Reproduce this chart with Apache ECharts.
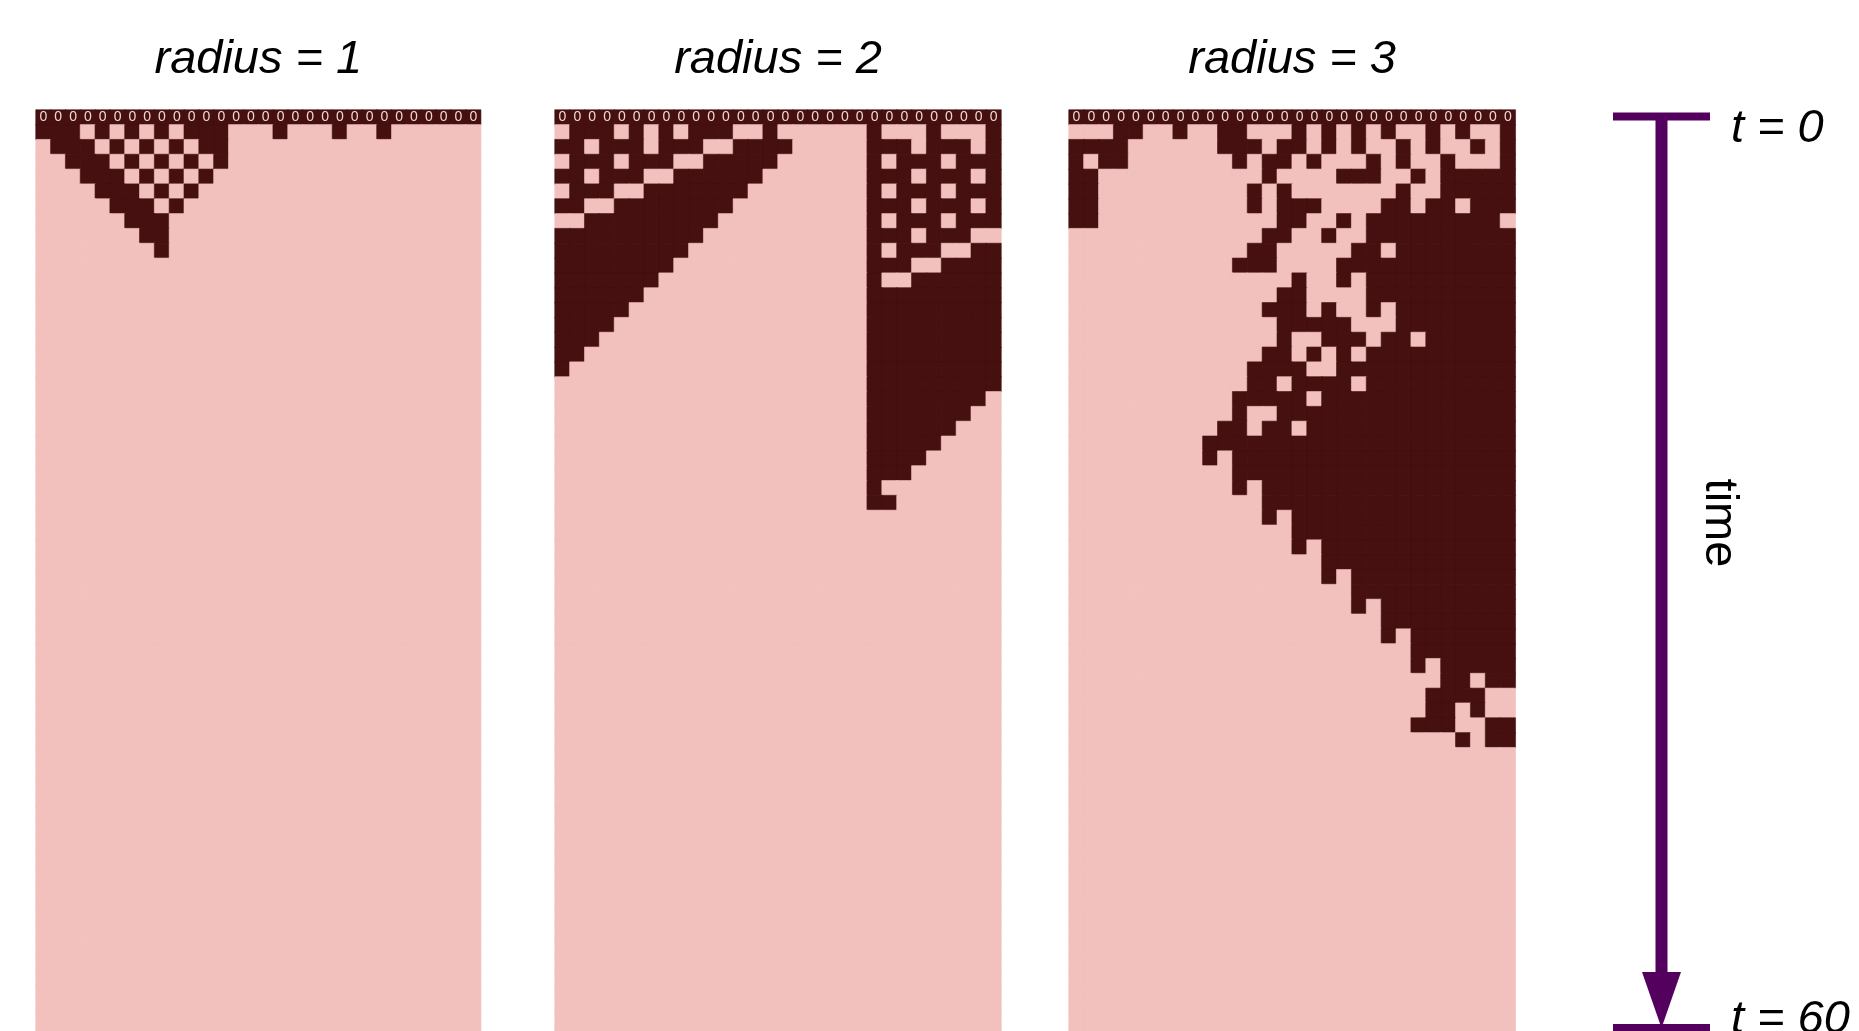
<!DOCTYPE html>
<html>
<head>
<meta charset="utf-8">
<title>radius</title>
<script src="https://cdn.jsdelivr.net/npm/echarts@6/dist/echarts.min.js"></script>
<style>
  html, body { margin: 0; padding: 0; background: #ffffff; }
  #chart { width: 1859px; height: 1031px; }
</style>
</head>
<body>
<div id="chart"></div>
<script>
// Cellular automaton runs, one panel per neighbourhood radius.
// Each string is one time step; '#' = state 1 (dark), '.' = state 0 (light).
// Steps after the last listed one stay at state 0.
const panelTitles = ['radius = 1', 'radius = 2', 'radius = 3'];
const headerLabels = '000000000000000000000000000000'.split('');
const timeTicks = [0, 60];
const timeLabels = ['t = 0', 't = 60'];
const timeAxisName = 'time';

const radius1Steps = [
  '##############################',
  '###.#.#.#.###...#...#..#......',
  '.###.#.#.#.##.................',
  '..###.#.#.#.#.................',
  '...###.#.#.#..................',
  '....###.#.#...................',
  '.....###.#....................',
  '......###.....................',
  '.......##.....................',
  '........#.....................'
];

const radius2Steps = [
  '##############################',
  '.###.#.#.###..#......#...#...#',
  '##.###.###..####.....###.###.#',
  '.###.###..#####......#.###.###',
  '##.###..######.......###.###.#',
  '.###..#######........#.###.###',
  '##..########.........###.###.#',
  '..#########..........#.###.###',
  '##########...........###.###..',
  '#########............#.###..##',
  '########.............###..####',
  '#######..............#..######',
  '######...............#########',
  '#####................#########',
  '####.................#########',
  '###..................#########',
  '##...................#########',
  '#....................#########',
  '.....................#########',
  '.....................########.',
  '.....................#######..',
  '.....................######...',
  '.....................#####....',
  '.....................####.....',
  '.....................###......',
  '.....................#........',
  '.....................##.......'
];

const radius3Steps = [
  '##############################',
  '...##..#..##...#.#.#.#..#.#..#',
  '####......###.##.#.#..#.#..#.#',
  '#.##.......#.##.#...#.#..#...#',
  '##...........#....###..#.#####',
  '##..........#.#.......#..#####',
  '##..........#.###....##.##.###',
  '##............##..#.#########.',
  '.............##..#..##########',
  '............##.....##.########',
  '...........###....############',
  '...............#..#.##########',
  '..............##....##########',
  '.............###.#..#.########',
  '..............#####...########',
  '..............#..###.##.######',
  '.............##.#.#.##########',
  '............####..############',
  '............##.####.##########',
  '...........#####.#############',
  '...........#..################',
  '..........##.##.##############',
  '.........#####################',
  '.........#.###################',
  '...........###################',
  '...........#.#################',
  '.............#################',
  '.............#.###############',
  '...............###############',
  '...............#.#############',
  '.................#############',
  '.................#.###########',
  '...................###########',
  '...................#.#########',
  '.....................#########',
  '.....................#.#######',
  '.......................#######',
  '.......................#.#####',
  '.........................##.##',
  '........................####..',
  '........................##.#..',
  '.......................###..##',
  '..........................#.##'
];

const panelSteps = [radius1Steps, radius2Steps, radius3Steps];

// layout
const COLS = 30;
const ROWS = 63;
const CELL_H = 14.83;
const GRID_TOP = 110;
const panelBoxes = [
  { left: 36, width: 444.7 },
  { left: 555, width: 446 },
  { left: 1069, width: 446.3 }
];
const DARK = '#45100f';
const LIGHT = '#f2c1bd';
const HEADER_TEXT = '#f3d6d2';
const PURPLE = '#54005f';
const FONT = '"Liberation Sans", Arial, sans-serif';
const stateColors = [LIGHT, DARK];

const colCats = Array.from({ length: COLS }, (_, i) => String(i));
const rowCats = Array.from({ length: ROWS }, (_, i) => String(i));

function cellData(steps) {
  const out = [];
  for (let r = 0; r < ROWS; r++) {
    const row = (steps[r] || '').padEnd(COLS, '.');
    for (let c = 0; c < COLS; c++) {
      const v = row[c] === '#' ? 1 : 0;
      const item = {
        value: [c, r, v],
        // a hairline border in the fill colour closes the seams between cells
        itemStyle: { color: stateColors[v], borderColor: stateColors[v], borderWidth: 0.6 }
      };
      if (r === 0) item.label = { show: true, formatter: headerLabels[c] };
      out.push(item);
    }
  }
  return out;
}

const grid = panelBoxes.map(b => ({
  left: b.left, top: GRID_TOP, width: b.width, height: ROWS * CELL_H,
  outerBoundsMode: 'none', containLabel: false
}));
grid.push({ left: 1613, top: 116.5, width: 97, height: 911.5, outerBoundsMode: 'none', containLabel: false });

const xAxis = panelBoxes.map((b, i) => ({
  type: 'category', gridIndex: i, data: colCats, show: false
}));
xAxis.push({ type: 'value', gridIndex: 3, min: 0, max: 1, show: false });

const yAxis = panelBoxes.map((b, i) => ({
  type: 'category', gridIndex: i, data: rowCats, inverse: true, show: false
}));
yAxis.push({ type: 'value', gridIndex: 3, min: timeTicks[0], max: timeTicks[1], inverse: true, show: false });

const series = panelSteps.map((steps, i) => ({
  type: 'heatmap',
  xAxisIndex: i,
  yAxisIndex: i,
  data: cellData(steps),
  label: {
    show: false,
    color: HEADER_TEXT,
    fontSize: 14,
    fontFamily: FONT
  },
  emphasis: { disabled: true },
  silent: true
}));

// time arrow running from t = 0 down to t = 60
series.push({
  type: 'custom',
  xAxisIndex: 3,
  yAxisIndex: 3,
  clip: false,
  silent: true,
  data: [[timeTicks[0], timeTicks[1]]],
  renderItem: function (params, api) {
    const a = api.coord([0, api.value(0)]);
    const b = api.coord([1, api.value(0)]);
    const c = api.coord([0, api.value(1)]);
    const d = api.coord([1, api.value(1)]);
    const xc = (a[0] + b[0]) / 2;
    const headLen = 56;
    const headHalf = 19.5;
    const textStyle = {
      fill: '#000', fontSize: 47, fontStyle: 'italic', fontFamily: FONT,
      align: 'left', verticalAlign: 'middle'
    };
    return {
      type: 'group',
      children: [
        { type: 'line', shape: { x1: a[0], y1: a[1], x2: b[0], y2: b[1] },
          style: { stroke: PURPLE, lineWidth: 8 } },
        { type: 'line', shape: { x1: c[0], y1: c[1], x2: d[0], y2: d[1] },
          style: { stroke: PURPLE, lineWidth: 8 } },
        { type: 'line', shape: { x1: xc, y1: a[1], x2: xc, y2: c[1] - headLen + 2 },
          style: { stroke: PURPLE, lineWidth: 12 } },
        { type: 'polygon',
          shape: { points: [[xc - headHalf, c[1] - headLen], [xc + headHalf, c[1] - headLen], [xc, c[1]]] },
          style: { fill: PURPLE } },
        { type: 'text', x: b[0] + 21, y: a[1] + 12,
          style: Object.assign({ text: timeLabels[0] }, textStyle) },
        { type: 'text', x: d[0] + 21, y: c[1] - 8,
          style: Object.assign({ text: timeLabels[1] }, textStyle) }
      ]
    };
  }
});

const graphic = panelTitles.map((t, i) => ({
  type: 'text',
  x: panelBoxes[i].left + panelBoxes[i].width / 2,
  y: 60,
  silent: true,
  style: {
    text: t, fill: '#000', fontSize: 47, fontStyle: 'italic', fontFamily: FONT,
    align: 'center', verticalAlign: 'middle'
  }
}));
graphic.push({
  type: 'text',
  x: 1719,
  y: 523,
  rotation: -Math.PI / 2,
  silent: true,
  style: {
    text: timeAxisName, fill: '#000', fontSize: 47, fontFamily: FONT,
    align: 'center', verticalAlign: 'middle'
  }
});

const chart = echarts.init(document.getElementById('chart'), null, { renderer: 'canvas' });
chart.setOption({
  animation: false,
  backgroundColor: '#ffffff',
  grid: grid,
  xAxis: xAxis,
  yAxis: yAxis,
  graphic: graphic,
  series: series
});
</script>
</body>
</html>
